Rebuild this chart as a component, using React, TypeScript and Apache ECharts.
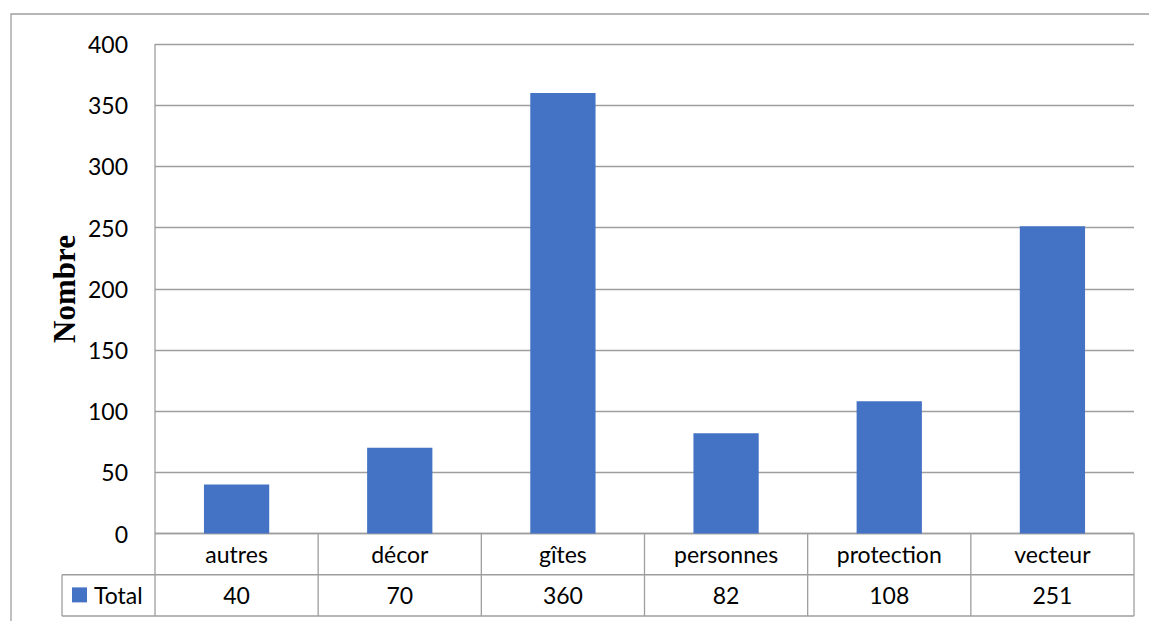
import React, { useEffect, useRef } from "react";
import * as echarts from "echarts";

const categories = ["autres", "décor", "gîtes", "personnes", "protection", "vecteur"];
const totals = [40, 70, 360, 82, 108, 251];
const seriesName = "Total";
const yTicks = { min: 0, max: 400, interval: 50 };
const axisTitle = "Nombre";

const W = 1149;
const H = 621;
const GL = 155;
const GT = 44;
const GR = 1134;
const GB = 533.5;
const ROW = 41.25;
const LEG_L = 62;
const LINE = "#9e9e9e";

export default function App() {
  const ref = useRef<HTMLDivElement>(null);
  useEffect(() => {
    if (!ref.current) return;
    const chart = echarts.init(ref.current, null, { renderer: "svg" });
    const gw = GR - GL;
    const n = categories.length;
    const lines: any[] = [];
    const ln = (x1: number, y1: number, x2: number, y2: number) =>
      lines.push({
        type: "line",
        shape: { x1, y1, x2, y2 },
        style: { stroke: LINE, lineWidth: 1.3 },
        silent: true,
      });
    // table horizontals
    ln(GL, GB, GR, GB);
    ln(LEG_L, GB + ROW, GR, GB + ROW);
    ln(LEG_L, GB + 2 * ROW, GR, GB + 2 * ROW);
    // verticals
    ln(GL, GT, GL, GB + 2 * ROW);
    ln(LEG_L, GB + ROW, LEG_L, GB + 2 * ROW);
    for (let i = 1; i <= n; i++) {
      const x = GL + (gw * i) / n;
      ln(x, GB, x, GB + 2 * ROW);
    }
    // outer frame
    lines.push({
      type: "rect",
      shape: { x: 11, y: 14, width: W + 20, height: H + 20 },
      style: { fill: "none", stroke: LINE, lineWidth: 1.3 },
      silent: true,
    });
    lines.push({
      type: "text",
      x: 64,
      y: 289,
      rotation: Math.PI / 2,
      style: {
        text: axisTitle,
        font: "bold 31px 'Liberation Serif', serif",
        fill: "#000",
        align: "center",
        verticalAlign: "middle",
      },
    });

    chart.setOption({
      animation: false,
      backgroundColor: "#fff",
      grid: { left: GL, top: GT, width: gw, height: GB - GT, containLabel: false },
      legend: {
        data: [seriesName],
        left: 72,
        top: GB + ROW + ROW / 2 - 12,
        icon: "rect",
        itemWidth: 15,
        itemHeight: 15,
        itemGap: 0,
        padding: 0,
        textStyle: { fontFamily: "Lato", fontSize: 23, color: "#000", padding: [0, 0, 0, 2] },
      },
      xAxis: {
        type: "category",
        data: categories,
        axisLine: { show: false },
        axisTick: { show: false },
        splitLine: { show: false },
        axisLabel: {
          margin: 0,
          interval: 0,
          formatter: (v: string, i: number) => `{a|${v}}\n{b|${totals[i]}}`,
          rich: {
            a: { fontFamily: "Lato", fontSize: 23, color: "#000", lineHeight: ROW, height: ROW },
            b: { fontFamily: "Lato", fontSize: 23, color: "#000", lineHeight: ROW, height: ROW },
          },
        },
      },
      yAxis: {
        type: "value",
        min: yTicks.min,
        max: yTicks.max,
        interval: yTicks.interval,
        axisLine: { show: false },
        axisTick: { show: false },
        axisLabel: { margin: 27, fontFamily: "Lato", fontSize: 23, color: "#000" },
        splitLine: { lineStyle: { color: LINE, width: 1.3 } },
      },
      series: [
        {
          name: seriesName,
          type: "bar",
          data: totals,
          barWidth: "40%",
          itemStyle: { color: "#4472C4" },
        },
      ],
      graphic: lines,
    });
    return () => chart.dispose();
  }, []);
  return (
    <div
      ref={ref}
      style={{ position: "fixed", left: 0, top: 0, width: W, height: H, background: "#fff" }}
    />
  );
}
